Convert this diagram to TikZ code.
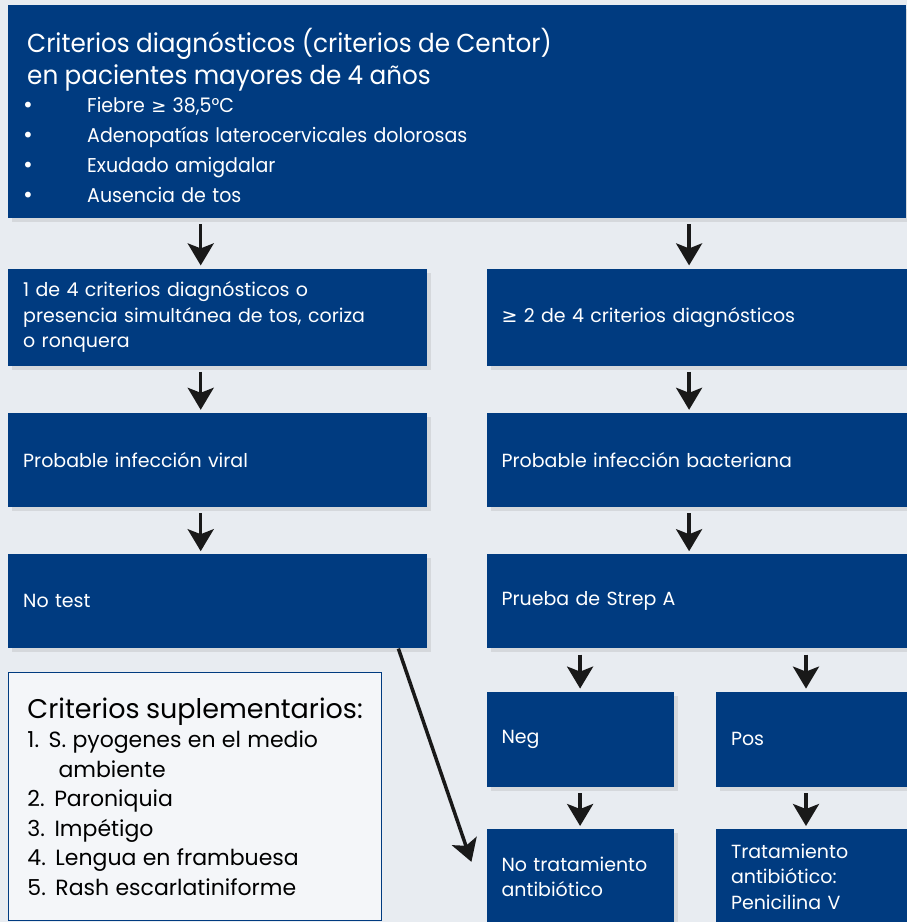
\documentclass[tikz,border=0pt]{standalone}
\usepackage{fontspec}
\setmainfont{Poppins}
\newfontfamily\symfont{DejaVu Sans}
\newfontfamily\narrowfont[FakeStretch=0.95]{Poppins}
\usepackage{xcolor}
\usetikzlibrary{positioning, arrows.meta, shadows}

\definecolor{boxblue}{RGB}{0,59,128}
\definecolor{panelgray}{RGB}{232,236,241}
\definecolor{legendfill}{RGB}{244,246,249}

\tikzset{
  flow/.style={rectangle, fill=boxblue, text=white, align=left, inner xsep=15pt, inner ysep=0pt,
    drop shadow={opacity=0.18, shadow xshift=4pt, shadow yshift=-4pt}},
  arr/.style={->, line width=3.5pt, black!90, shorten <=6pt, shorten >=3pt}
}
\newcommand{\bul}{\makebox[65pt][l]{{\symfont\fontsize{20}{20}\selectfont •}}}

\begin{document}
\begin{tikzpicture}[x=1pt, y=1pt, >={Stealth[length=22pt, width=26pt, inset=5pt]},
    every node/.style={font=\fontsize{19}{25.5}\selectfont}]
  \fill[panelgray] (0,0) rectangle (907,-922);
  \useasboundingbox (0,0) rectangle (907,-922);

  % criterios de Centor
  \node[flow, anchor=north west, text width=870pt, minimum height=213pt, inner xsep=14pt] (centor) at (8,-5)
    {\narrowfont{\fontsize{26}{32}\selectfont\hspace*{5pt}Criterios diagnósticos (criterios de Centor)\\
     \hspace*{5pt}en pacientes mayores de 4 años\par}
     \vspace{-2pt}
     {\fontsize{20}{30}\selectfont
     \bul Fiebre {\symfont\fontsize{18}{18}\selectfont≥} 38,5°C\\
     \bul Adenopatías laterocervicales dolorosas\\
     \bul Exudado amigdalar\\
     \bul Ausencia de tos\par}\vspace{-8pt}};

  % rama izquierda
  \node[flow, below=50pt of centor.south west, anchor=north west, text width=389pt, minimum height=97pt] (uno)
    {1 de 4 criterios diagnósticos o\\presencia simultánea de tos, coriza\\o ronquera};
  \node[flow, below=47pt of uno.south west, anchor=north west, text width=389pt, minimum height=94pt] (viral)
    {Probable infección viral};
  \node[flow, below=47pt of viral.south west, anchor=north west, text width=389pt, minimum height=94pt] (notest)
    {No test};

  % rama derecha
  \node[flow, right=59pt of uno.north east, anchor=north west, text width=391pt, minimum height=97pt, inner xsep=15pt] (dos)
    {{\symfont≥} 2 de 4 criterios diagnósticos};
  \node[flow, below=47pt of dos.south west, anchor=north west, text width=391pt, minimum height=94pt] (bact)
    {Probable infección bacteriana};
  \node[flow, below=47pt of bact.south west, anchor=north west, text width=391pt, minimum height=94pt] (strep)
    {Prueba de Strep A};
  \node[flow, below=43pt of strep.south west, anchor=north west, text width=157pt, minimum height=95pt] (neg)
    {Neg};
  \node[flow, right=42pt of neg.north east, anchor=north west, text width=162pt, minimum height=95pt] (pos)
    {Pos};
  \node[flow, below=42pt of neg.south west, anchor=north west, text width=157pt, minimum height=95pt] (notrat)
    {No tratamiento\\antibiótico};
  \node[flow, below=42pt of pos.south west, anchor=north west, text width=162pt, minimum height=95pt] (trat)
    {Tratamiento\\antibiótico:\\Penicilina V};

  % criterios suplementarios
  \node[rectangle, draw=boxblue, line width=1pt, fill=legendfill, anchor=north west, text width=345pt,
    minimum height=248pt, inner xsep=14pt, inner ysep=0pt, align=left] (supl) at (8,-672)
    {\hyphenpenalty=10000 {\fontsize{27}{30}\selectfont\hspace*{5pt}Criterios suplementarios:\par}
     {\fontsize{22}{29.5}\selectfont \hspace*{5pt}1. S. pyogenes en el medio\\
     \hspace*{36pt}ambiente\\
     \hspace*{5pt}2. Paroniquia\\
     \hspace*{5pt}3. Impétigo\\
     \hspace*{5pt}4. Lengua en frambuesa\\
     \hspace*{5pt}5. Rash escarlatiniforme\par}};

  \draw[arr] ([xshift=-17pt]centor.south -| uno.south) -- ([xshift=-17pt]uno.north);
  \draw[arr] ([xshift=-8pt]centor.south -| dos.south) -- ([xshift=-8pt]dos.north);
  \draw[arr] ([xshift=-17pt]uno.south) -- ([xshift=-17pt]viral.north);
  \draw[arr] ([xshift=-8pt]dos.south) -- ([xshift=-8pt]bact.north);
  \draw[arr] ([xshift=-17pt]viral.south) -- ([xshift=-17pt]notest.north);
  \draw[arr] ([xshift=-8pt]bact.south) -- ([xshift=-8pt]strep.north);
  \draw[arr] (neg.north |- strep.south) -- (neg.north);
  \draw[arr] ([xshift=-6pt]pos.north |- strep.south) -- ([xshift=-6pt]pos.north);
  \draw[arr] (neg.south) -- (notrat.north);
  \draw[arr] ([xshift=-6pt]pos.south) -- ([xshift=-6pt]trat.north);
  \draw[arr, shorten <=0pt] ([xshift=-29pt]notest.south east) -- ([xshift=-14pt, yshift=12pt]notrat.west);
\end{tikzpicture}
\end{document}
